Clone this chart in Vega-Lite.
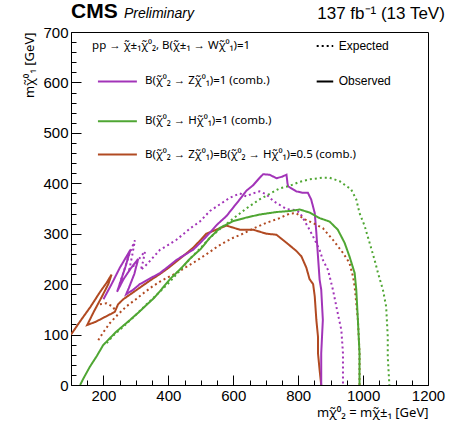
{
  "$schema": "https://vega.github.io/schema/vega-lite/v6.json",
  "width": 357,
  "height": 353,
  "autosize": {"type": "none"},
  "padding": {"left": 71, "top": 32, "right": 21, "bottom": 40},
  "background": "white",
  "config": {
    "font": "Liberation Sans",
    "view": {"stroke": "black", "strokeWidth": 1},
    "axis": {"domainColor": "black", "labelColor": "black", "titleColor": "black", "grid": false, "labelFont": "Liberation Sans", "titleFont": "Noto Sans", "labelFontSize": 15, "titleFontSize": 13, "titleFontWeight": "normal", "labelOverlap": false}
  },
  "resolve": {"axis": {"x": "independent", "y": "independent"}},
  "datasets": {
    "curves": [
      {"g":"ZHo","s":"ZH","t":"obs","i":0,"x":100,"y":100},
      {"g":"ZHo","s":"ZH","t":"obs","i":1,"x":130,"y":128},
      {"g":"ZHo","s":"ZH","t":"obs","i":2,"x":160,"y":155},
      {"g":"ZHo","s":"ZH","t":"obs","i":3,"x":190,"y":185},
      {"g":"ZHo","s":"ZH","t":"obs","i":4,"x":210,"y":203},
      {"g":"ZHo","s":"ZH","t":"obs","i":5,"x":225,"y":219},
      {"g":"ZHo","s":"ZH","t":"obs","i":6,"x":215,"y":200},
      {"g":"ZHo","s":"ZH","t":"obs","i":7,"x":195,"y":175},
      {"g":"ZHo","s":"ZH","t":"obs","i":8,"x":170,"y":145},
      {"g":"ZHo","s":"ZH","t":"obs","i":9,"x":150,"y":119},
      {"g":"ZHo","s":"ZH","t":"obs","i":10,"x":175,"y":125},
      {"g":"ZHo","s":"ZH","t":"obs","i":11,"x":205,"y":135},
      {"g":"ZHo","s":"ZH","t":"obs","i":12,"x":235,"y":145},
      {"g":"ZHo","s":"ZH","t":"obs","i":13,"x":245,"y":160},
      {"g":"ZHo","s":"ZH","t":"obs","i":14,"x":261,"y":170},
      {"g":"ZHo","s":"ZH","t":"obs","i":15,"x":290,"y":183},
      {"g":"ZHo","s":"ZH","t":"obs","i":16,"x":323,"y":198},
      {"g":"ZHo","s":"ZH","t":"obs","i":17,"x":350,"y":210},
      {"g":"ZHo","s":"ZH","t":"obs","i":18,"x":374,"y":220},
      {"g":"ZHo","s":"ZH","t":"obs","i":19,"x":400,"y":232},
      {"g":"ZHo","s":"ZH","t":"obs","i":20,"x":425,"y":245},
      {"g":"ZHo","s":"ZH","t":"obs","i":21,"x":450,"y":258},
      {"g":"ZHo","s":"ZH","t":"obs","i":22,"x":476,"y":272},
      {"g":"ZHo","s":"ZH","t":"obs","i":23,"x":500,"y":288},
      {"g":"ZHo","s":"ZH","t":"obs","i":24,"x":517,"y":300},
      {"g":"ZHo","s":"ZH","t":"obs","i":25,"x":548,"y":308},
      {"g":"ZHo","s":"ZH","t":"obs","i":26,"x":579,"y":316},
      {"g":"ZHo","s":"ZH","t":"obs","i":27,"x":600,"y":312},
      {"g":"ZHo","s":"ZH","t":"obs","i":28,"x":620,"y":308},
      {"g":"ZHo","s":"ZH","t":"obs","i":29,"x":661,"y":308},
      {"g":"ZHo","s":"ZH","t":"obs","i":30,"x":702,"y":300},
      {"g":"ZHo","s":"ZH","t":"obs","i":31,"x":733,"y":298},
      {"g":"ZHo","s":"ZH","t":"obs","i":32,"x":764,"y":282},
      {"g":"ZHo","s":"ZH","t":"obs","i":33,"x":794,"y":266},
      {"g":"ZHo","s":"ZH","t":"obs","i":34,"x":810,"y":255},
      {"g":"ZHo","s":"ZH","t":"obs","i":35,"x":825,"y":233},
      {"g":"ZHo","s":"ZH","t":"obs","i":36,"x":835,"y":210},
      {"g":"ZHo","s":"ZH","t":"obs","i":37,"x":846,"y":200},
      {"g":"ZHo","s":"ZH","t":"obs","i":38,"x":851,"y":176},
      {"g":"ZHo","s":"ZH","t":"obs","i":39,"x":856,"y":129},
      {"g":"ZHo","s":"ZH","t":"obs","i":40,"x":861,"y":96},
      {"g":"ZHo","s":"ZH","t":"obs","i":41,"x":861,"y":63},
      {"g":"ZHo","s":"ZH","t":"obs","i":42,"x":866,"y":30},
      {"g":"ZHo","s":"ZH","t":"obs","i":43,"x":871,"y":0},

      {"g":"Zo","s":"Z","t":"obs","i":0,"x":200,"y":170},
      {"g":"Zo","s":"Z","t":"obs","i":1,"x":225,"y":200},
      {"g":"Zo","s":"Z","t":"obs","i":2,"x":250,"y":232},
      {"g":"Zo","s":"Z","t":"obs","i":3,"x":283,"y":268},
      {"g":"Zo","s":"Z","t":"obs","i":4,"x":268,"y":235},
      {"g":"Zo","s":"Z","t":"obs","i":5,"x":250,"y":200},
      {"g":"Zo","s":"Z","t":"obs","i":6,"x":242,"y":185},
      {"g":"Zo","s":"Z","t":"obs","i":7,"x":262,"y":210},
      {"g":"Zo","s":"Z","t":"obs","i":8,"x":285,"y":232},
      {"g":"Zo","s":"Z","t":"obs","i":9,"x":307,"y":250},
      {"g":"Zo","s":"Z","t":"obs","i":10,"x":295,"y":220},
      {"g":"Zo","s":"Z","t":"obs","i":11,"x":278,"y":192},
      {"g":"Zo","s":"Z","t":"obs","i":12,"x":270,"y":180},
      {"g":"Zo","s":"Z","t":"obs","i":13,"x":290,"y":188},
      {"g":"Zo","s":"Z","t":"obs","i":14,"x":312,"y":200},
      {"g":"Zo","s":"Z","t":"obs","i":15,"x":340,"y":210},
      {"g":"Zo","s":"Z","t":"obs","i":16,"x":374,"y":222},
      {"g":"Zo","s":"Z","t":"obs","i":17,"x":400,"y":235},
      {"g":"Zo","s":"Z","t":"obs","i":18,"x":425,"y":248},
      {"g":"Zo","s":"Z","t":"obs","i":19,"x":450,"y":258},
      {"g":"Zo","s":"Z","t":"obs","i":20,"x":476,"y":268},
      {"g":"Zo","s":"Z","t":"obs","i":21,"x":500,"y":283},
      {"g":"Zo","s":"Z","t":"obs","i":22,"x":528,"y":302},
      {"g":"Zo","s":"Z","t":"obs","i":23,"x":550,"y":318},
      {"g":"Zo","s":"Z","t":"obs","i":24,"x":579,"y":335},
      {"g":"Zo","s":"Z","t":"obs","i":25,"x":600,"y":352},
      {"g":"Zo","s":"Z","t":"obs","i":26,"x":620,"y":368},
      {"g":"Zo","s":"Z","t":"obs","i":27,"x":640,"y":385},
      {"g":"Zo","s":"Z","t":"obs","i":28,"x":661,"y":396},
      {"g":"Zo","s":"Z","t":"obs","i":29,"x":680,"y":410},
      {"g":"Zo","s":"Z","t":"obs","i":30,"x":692,"y":418},
      {"g":"Zo","s":"Z","t":"obs","i":31,"x":712,"y":417},
      {"g":"Zo","s":"Z","t":"obs","i":32,"x":733,"y":410},
      {"g":"Zo","s":"Z","t":"obs","i":33,"x":750,"y":413},
      {"g":"Zo","s":"Z","t":"obs","i":34,"x":764,"y":417},
      {"g":"Zo","s":"Z","t":"obs","i":35,"x":767,"y":400},
      {"g":"Zo","s":"Z","t":"obs","i":36,"x":769,"y":394},
      {"g":"Zo","s":"Z","t":"obs","i":37,"x":794,"y":384},
      {"g":"Zo","s":"Z","t":"obs","i":38,"x":815,"y":381},
      {"g":"Zo","s":"Z","t":"obs","i":39,"x":830,"y":381},
      {"g":"Zo","s":"Z","t":"obs","i":40,"x":840,"y":368},
      {"g":"Zo","s":"Z","t":"obs","i":41,"x":851,"y":341},
      {"g":"Zo","s":"Z","t":"obs","i":42,"x":856,"y":302},
      {"g":"Zo","s":"Z","t":"obs","i":43,"x":861,"y":255},
      {"g":"Zo","s":"Z","t":"obs","i":44,"x":866,"y":209},
      {"g":"Zo","s":"Z","t":"obs","i":45,"x":871,"y":189},
      {"g":"Zo","s":"Z","t":"obs","i":46,"x":876,"y":129},
      {"g":"Zo","s":"Z","t":"obs","i":47,"x":873,"y":90},
      {"g":"Zo","s":"Z","t":"obs","i":48,"x":871,"y":63},
      {"g":"Zo","s":"Z","t":"obs","i":49,"x":871,"y":0},

      {"g":"Ze","s":"Z","t":"exp","i":0,"x":250,"y":200},
      {"g":"Ze","s":"Z","t":"exp","i":1,"x":265,"y":230},
      {"g":"Ze","s":"Z","t":"exp","i":2,"x":280,"y":260},
      {"g":"Ze","s":"Z","t":"exp","i":3,"x":297,"y":287},
      {"g":"Ze","s":"Z","t":"exp","i":4,"x":288,"y":255},
      {"g":"Ze","s":"Z","t":"exp","i":5,"x":280,"y":230},
      {"g":"Ze","s":"Z","t":"exp","i":6,"x":300,"y":240},
      {"g":"Ze","s":"Z","t":"exp","i":7,"x":315,"y":255},
      {"g":"Ze","s":"Z","t":"exp","i":8,"x":328,"y":265},
      {"g":"Ze","s":"Z","t":"exp","i":9,"x":322,"y":245},
      {"g":"Ze","s":"Z","t":"exp","i":10,"x":315,"y":228},
      {"g":"Ze","s":"Z","t":"exp","i":11,"x":335,"y":240},
      {"g":"Ze","s":"Z","t":"exp","i":12,"x":374,"y":268},
      {"g":"Ze","s":"Z","t":"exp","i":13,"x":400,"y":278},
      {"g":"Ze","s":"Z","t":"exp","i":14,"x":425,"y":288},
      {"g":"Ze","s":"Z","t":"exp","i":15,"x":466,"y":310},
      {"g":"Ze","s":"Z","t":"exp","i":16,"x":497,"y":324},
      {"g":"Ze","s":"Z","t":"exp","i":17,"x":528,"y":345},
      {"g":"Ze","s":"Z","t":"exp","i":18,"x":558,"y":358},
      {"g":"Ze","s":"Z","t":"exp","i":19,"x":589,"y":371},
      {"g":"Ze","s":"Z","t":"exp","i":20,"x":620,"y":380},
      {"g":"Ze","s":"Z","t":"exp","i":21,"x":640,"y":374},
      {"g":"Ze","s":"Z","t":"exp","i":22,"x":661,"y":380},
      {"g":"Ze","s":"Z","t":"exp","i":23,"x":681,"y":384},
      {"g":"Ze","s":"Z","t":"exp","i":24,"x":702,"y":378},
      {"g":"Ze","s":"Z","t":"exp","i":25,"x":723,"y":365},
      {"g":"Ze","s":"Z","t":"exp","i":26,"x":733,"y":361},
      {"g":"Ze","s":"Z","t":"exp","i":27,"x":764,"y":349},
      {"g":"Ze","s":"Z","t":"exp","i":28,"x":790,"y":347},
      {"g":"Ze","s":"Z","t":"exp","i":29,"x":805,"y":342},
      {"g":"Ze","s":"Z","t":"exp","i":30,"x":820,"y":325},
      {"g":"Ze","s":"Z","t":"exp","i":31,"x":835,"y":308},
      {"g":"Ze","s":"Z","t":"exp","i":32,"x":851,"y":288},
      {"g":"Ze","s":"Z","t":"exp","i":33,"x":866,"y":268},
      {"g":"Ze","s":"Z","t":"exp","i":34,"x":876,"y":248},
      {"g":"Ze","s":"Z","t":"exp","i":35,"x":892,"y":228},
      {"g":"Ze","s":"Z","t":"exp","i":36,"x":907,"y":189},
      {"g":"Ze","s":"Z","t":"exp","i":37,"x":922,"y":142},
      {"g":"Ze","s":"Z","t":"exp","i":38,"x":933,"y":109},
      {"g":"Ze","s":"Z","t":"exp","i":39,"x":938,"y":63},
      {"g":"Ze","s":"Z","t":"exp","i":40,"x":938,"y":0},

      {"g":"ZHe2","s":"ZH","t":"exp","i":0,"x":189,"y":160},
      {"g":"ZHe2","s":"ZH","t":"exp","i":1,"x":210,"y":162},
      {"g":"ZHe2","s":"ZH","t":"exp","i":2,"x":230,"y":155},
      {"g":"ZHe2","s":"ZH","t":"exp","i":3,"x":236,"y":146},

      {"g":"ZHe","s":"ZH","t":"exp","i":0,"x":184,"y":89},
      {"g":"ZHe","s":"ZH","t":"exp","i":1,"x":200,"y":105},
      {"g":"ZHe","s":"ZH","t":"exp","i":2,"x":220,"y":123},
      {"g":"ZHe","s":"ZH","t":"exp","i":3,"x":245,"y":140},
      {"g":"ZHe","s":"ZH","t":"exp","i":4,"x":271,"y":156},
      {"g":"ZHe","s":"ZH","t":"exp","i":5,"x":300,"y":170},
      {"g":"ZHe","s":"ZH","t":"exp","i":6,"x":323,"y":182},
      {"g":"ZHe","s":"ZH","t":"exp","i":7,"x":350,"y":195},
      {"g":"ZHe","s":"ZH","t":"exp","i":8,"x":374,"y":205},
      {"g":"ZHe","s":"ZH","t":"exp","i":9,"x":400,"y":214},
      {"g":"ZHe","s":"ZH","t":"exp","i":10,"x":425,"y":222},
      {"g":"ZHe","s":"ZH","t":"exp","i":11,"x":450,"y":232},
      {"g":"ZHe","s":"ZH","t":"exp","i":12,"x":476,"y":242},
      {"g":"ZHe","s":"ZH","t":"exp","i":13,"x":500,"y":252},
      {"g":"ZHe","s":"ZH","t":"exp","i":14,"x":528,"y":264},
      {"g":"ZHe","s":"ZH","t":"exp","i":15,"x":550,"y":274},
      {"g":"ZHe","s":"ZH","t":"exp","i":16,"x":579,"y":285},
      {"g":"ZHe","s":"ZH","t":"exp","i":17,"x":600,"y":292},
      {"g":"ZHe","s":"ZH","t":"exp","i":18,"x":630,"y":300},
      {"g":"ZHe","s":"ZH","t":"exp","i":19,"x":661,"y":310},
      {"g":"ZHe","s":"ZH","t":"exp","i":20,"x":700,"y":321},
      {"g":"ZHe","s":"ZH","t":"exp","i":21,"x":743,"y":331},
      {"g":"ZHe","s":"ZH","t":"exp","i":22,"x":774,"y":340},
      {"g":"ZHe","s":"ZH","t":"exp","i":23,"x":794,"y":341},
      {"g":"ZHe","s":"ZH","t":"exp","i":24,"x":815,"y":330},
      {"g":"ZHe","s":"ZH","t":"exp","i":25,"x":846,"y":321},
      {"g":"ZHe","s":"ZH","t":"exp","i":26,"x":876,"y":311},
      {"g":"ZHe","s":"ZH","t":"exp","i":27,"x":907,"y":288},
      {"g":"ZHe","s":"ZH","t":"exp","i":28,"x":938,"y":262},
      {"g":"ZHe","s":"ZH","t":"exp","i":29,"x":958,"y":242},
      {"g":"ZHe","s":"ZH","t":"exp","i":30,"x":969,"y":215},
      {"g":"ZHe","s":"ZH","t":"exp","i":31,"x":974,"y":195},
      {"g":"ZHe","s":"ZH","t":"exp","i":32,"x":984,"y":129},
      {"g":"ZHe","s":"ZH","t":"exp","i":33,"x":989,"y":63},
      {"g":"ZHe","s":"ZH","t":"exp","i":34,"x":989,"y":0},

      {"g":"Ho","s":"H","t":"obs","i":0,"x":128,"y":0},
      {"g":"Ho","s":"H","t":"obs","i":1,"x":140,"y":15},
      {"g":"Ho","s":"H","t":"obs","i":2,"x":158,"y":36},
      {"g":"Ho","s":"H","t":"obs","i":3,"x":180,"y":58},
      {"g":"Ho","s":"H","t":"obs","i":4,"x":199,"y":79},
      {"g":"Ho","s":"H","t":"obs","i":5,"x":220,"y":93},
      {"g":"Ho","s":"H","t":"obs","i":6,"x":240,"y":106},
      {"g":"Ho","s":"H","t":"obs","i":7,"x":260,"y":117},
      {"g":"Ho","s":"H","t":"obs","i":8,"x":282,"y":129},
      {"g":"Ho","s":"H","t":"obs","i":9,"x":310,"y":145},
      {"g":"Ho","s":"H","t":"obs","i":10,"x":333,"y":159},
      {"g":"Ho","s":"H","t":"obs","i":11,"x":355,"y":172},
      {"g":"Ho","s":"H","t":"obs","i":12,"x":374,"y":186},
      {"g":"Ho","s":"H","t":"obs","i":13,"x":405,"y":210},
      {"g":"Ho","s":"H","t":"obs","i":14,"x":440,"y":232},
      {"g":"Ho","s":"H","t":"obs","i":15,"x":466,"y":250},
      {"g":"Ho","s":"H","t":"obs","i":16,"x":500,"y":270},
      {"g":"Ho","s":"H","t":"obs","i":17,"x":528,"y":292},
      {"g":"Ho","s":"H","t":"obs","i":18,"x":560,"y":312},
      {"g":"Ho","s":"H","t":"obs","i":19,"x":600,"y":325},
      {"g":"Ho","s":"H","t":"obs","i":20,"x":640,"y":332},
      {"g":"Ho","s":"H","t":"obs","i":21,"x":681,"y":338},
      {"g":"Ho","s":"H","t":"obs","i":22,"x":733,"y":343},
      {"g":"Ho","s":"H","t":"obs","i":23,"x":774,"y":345},
      {"g":"Ho","s":"H","t":"obs","i":24,"x":805,"y":348},
      {"g":"Ho","s":"H","t":"obs","i":25,"x":835,"y":342},
      {"g":"Ho","s":"H","t":"obs","i":26,"x":866,"y":331},
      {"g":"Ho","s":"H","t":"obs","i":27,"x":897,"y":324},
      {"g":"Ho","s":"H","t":"obs","i":28,"x":922,"y":308},
      {"g":"Ho","s":"H","t":"obs","i":29,"x":943,"y":282},
      {"g":"Ho","s":"H","t":"obs","i":30,"x":958,"y":255},
      {"g":"Ho","s":"H","t":"obs","i":31,"x":974,"y":222},
      {"g":"Ho","s":"H","t":"obs","i":32,"x":979,"y":189},
      {"g":"Ho","s":"H","t":"obs","i":33,"x":984,"y":129},
      {"g":"Ho","s":"H","t":"obs","i":34,"x":989,"y":63},
      {"g":"Ho","s":"H","t":"obs","i":35,"x":989,"y":0},

      {"g":"He","s":"H","t":"exp","i":0,"x":210,"y":83},
      {"g":"He","s":"H","t":"exp","i":1,"x":230,"y":98},
      {"g":"He","s":"H","t":"exp","i":2,"x":260,"y":115},
      {"g":"He","s":"H","t":"exp","i":3,"x":290,"y":133},
      {"g":"He","s":"H","t":"exp","i":4,"x":333,"y":160},
      {"g":"He","s":"H","t":"exp","i":5,"x":374,"y":185},
      {"g":"He","s":"H","t":"exp","i":6,"x":405,"y":205},
      {"g":"He","s":"H","t":"exp","i":7,"x":440,"y":230},
      {"g":"He","s":"H","t":"exp","i":8,"x":466,"y":250},
      {"g":"He","s":"H","t":"exp","i":9,"x":500,"y":272},
      {"g":"He","s":"H","t":"exp","i":10,"x":528,"y":292},
      {"g":"He","s":"H","t":"exp","i":11,"x":560,"y":310},
      {"g":"He","s":"H","t":"exp","i":12,"x":600,"y":330},
      {"g":"He","s":"H","t":"exp","i":13,"x":640,"y":350},
      {"g":"He","s":"H","t":"exp","i":14,"x":681,"y":368},
      {"g":"He","s":"H","t":"exp","i":15,"x":743,"y":390},
      {"g":"He","s":"H","t":"exp","i":16,"x":774,"y":395},
      {"g":"He","s":"H","t":"exp","i":17,"x":805,"y":403},
      {"g":"He","s":"H","t":"exp","i":18,"x":835,"y":408},
      {"g":"He","s":"H","t":"exp","i":19,"x":876,"y":411},
      {"g":"He","s":"H","t":"exp","i":20,"x":897,"y":411},
      {"g":"He","s":"H","t":"exp","i":21,"x":928,"y":404},
      {"g":"He","s":"H","t":"exp","i":22,"x":963,"y":388},
      {"g":"He","s":"H","t":"exp","i":23,"x":979,"y":368},
      {"g":"He","s":"H","t":"exp","i":24,"x":989,"y":341},
      {"g":"He","s":"H","t":"exp","i":25,"x":1005,"y":315},
      {"g":"He","s":"H","t":"exp","i":26,"x":1020,"y":282},
      {"g":"He","s":"H","t":"exp","i":27,"x":1035,"y":249},
      {"g":"He","s":"H","t":"exp","i":28,"x":1046,"y":222},
      {"g":"He","s":"H","t":"exp","i":29,"x":1061,"y":189},
      {"g":"He","s":"H","t":"exp","i":30,"x":1071,"y":156},
      {"g":"He","s":"H","t":"exp","i":31,"x":1076,"y":96},
      {"g":"He","s":"H","t":"exp","i":32,"x":1076,"y":56},
      {"g":"He","s":"H","t":"exp","i":33,"x":1081,"y":0}
    ],
    "legLines": [
      {"s":"Z","t":"obs","x":183,"x2":303,"y":602},
      {"s":"H","t":"obs","x":183,"x2":303,"y":523},
      {"s":"ZH","t":"obs","x":183,"x2":303,"y":457},
      {"s":"K","t":"exp","x":857,"x2":908,"y":672},
      {"s":"K","t":"obs","x":857,"x2":908,"y":602}
    ],
    "legText": [
      {"x":165,"y":672,"txt":"pp → χ̃±₁χ̃⁰₂, B(χ̃±₁ → Wχ̃⁰₁)=1"},
      {"x":328,"y":602,"txt":"B(χ̃⁰₂ → Zχ̃⁰₁)=1 (comb.)"},
      {"x":328,"y":523,"txt":"B(χ̃⁰₂ → Hχ̃⁰₁)=1 (comb.)"},
      {"x":328,"y":457,"txt":"B(χ̃⁰₂ → Zχ̃⁰₁)=B(χ̃⁰₂ → Hχ̃⁰₁)=0.5 (comb.)"}
    ],
    "legKey": [
      {"x":925,"y":672,"txt":"Expected"},
      {"x":925,"y":602,"txt":"Observed"}
    ]
  },
  "layer": [
    {
      "data": {"name": "curves"},
      "mark": {"type": "line", "strokeWidth": 2, "clip": true},
      "encoding": {
        "x": {"field": "x", "type": "quantitative", "scale": {"domain": [100, 1200], "nice": false, "zero": false},
          "axis": {"orient": "bottom", "title": "mχ̃⁰₂ = mχ̃±₁ [GeV]", "titleAnchor": "end", "titlePadding": 3, "format": "d",
            "values": [200,400,600,800,1000,1200], "ticks": false, "labelPadding": 3, "labelFlush": false}},
        "y": {"field": "y", "type": "quantitative", "scale": {"domain": [0, 700], "nice": false},
          "axis": {"orient": "left", "title": "mχ̃⁰₁ [GeV]", "titleAnchor": "end", "titlePadding": 6,
            "values": [0,100,200,300,400,500,600,700], "ticks": false, "labelPadding": 3, "labelFlush": false}},
        "color": {"field": "s", "type": "nominal", "scale": {"domain": ["Z","H","ZH","K"], "range": ["#a234b8","#4fa633","#b14a22","#000000"]}, "legend": null},
        "strokeDash": {"field": "t", "type": "nominal", "scale": {"domain": ["obs","exp"], "range": [[1,0],[2,3]]}, "legend": null},
        "detail": {"field": "g"},
        "order": {"field": "i", "type": "quantitative"}
      }
    },
    {
      "data": {"name": "legLines"},
      "mark": {"type": "rule", "strokeWidth": 2},
      "encoding": {
        "x": {"field": "x", "type": "quantitative",
          "axis": {"orient": "bottom", "title": null, "labels": false, "domain": false, "ticks": true, "tickColor": "#000000", "tickSize": 10, "offset": -10,
            "values": [200,400,600,800,1000,1200]}},
        "x2": {"field": "x2"},
        "y": {"field": "y", "type": "quantitative",
          "axis": {"orient": "left", "title": null, "labels": false, "domain": false, "ticks": true, "tickColor": "#000000", "tickSize": 10, "offset": -10,
            "values": [100,200,300,400,500,600,700]}},
        "color": {"field": "s", "type": "nominal", "legend": null},
        "strokeDash": {"field": "t", "type": "nominal", "legend": null}
      }
    },
    {
      "data": {"name": "legText"},
      "mark": {"type": "text", "align": "left", "baseline": "middle", "fontSize": 11.5, "font": "Noto Sans", "color": "black"},
      "encoding": {
        "x": {"field": "x", "type": "quantitative",
          "axis": {"orient": "bottom", "title": null, "labels": false, "domain": false, "ticks": true, "tickColor": "#000000", "tickSize": 5, "offset": -5,
            "values": [150,250,300,350,450,500,550,650,700,750,850,900,950,1050,1100,1150]}},
        "y": {"field": "y", "type": "quantitative",
          "axis": {"orient": "left", "title": null, "labels": false, "domain": false, "ticks": true, "tickColor": "#000000", "tickSize": 5, "offset": -5,
            "values": [20,40,60,80,120,140,160,180,220,240,260,280,320,340,360,380,420,440,460,480,520,540,560,580,620,640,660,680]}},
        "text": {"field": "txt"}
      }
    },
    {
      "data": {"name": "legKey"},
      "mark": {"type": "text", "align": "left", "baseline": "middle", "fontSize": 12, "font": "Liberation Sans", "color": "black"},
      "encoding": {
        "x": {"field": "x", "type": "quantitative", "axis": null},
        "y": {"field": "y", "type": "quantitative", "axis": null},
        "text": {"field": "txt"}
      }
    },
    {
      "data": {"values": [{"x": 100, "y": 728, "txt": "CMS"}]},
      "mark": {"type": "text", "align": "left", "baseline": "alphabetic", "fontSize": 21, "fontWeight": "bold", "font": "Liberation Sans", "color": "black"},
      "encoding": {"x": {"field": "x", "type": "quantitative", "axis": null}, "y": {"field": "y", "type": "quantitative", "axis": null}, "text": {"field": "txt"}}
    },
    {
      "data": {"values": [{"x": 263, "y": 728, "txt": "Preliminary"}]},
      "mark": {"type": "text", "align": "left", "baseline": "alphabetic", "fontSize": 14, "fontStyle": "italic", "font": "Liberation Sans", "color": "black"},
      "encoding": {"x": {"field": "x", "type": "quantitative", "axis": null}, "y": {"field": "y", "type": "quantitative", "axis": null}, "text": {"field": "txt"}}
    },
    {
      "data": {"values": [{"x": 1252, "y": 725, "txt": "137 fb⁻¹ (13 TeV)"}]},
      "mark": {"type": "text", "align": "right", "baseline": "alphabetic", "fontSize": 17, "font": "Liberation Sans", "color": "black"},
      "encoding": {"x": {"field": "x", "type": "quantitative", "axis": null}, "y": {"field": "y", "type": "quantitative", "axis": null}, "text": {"field": "txt"}}
    }
  ]
}
